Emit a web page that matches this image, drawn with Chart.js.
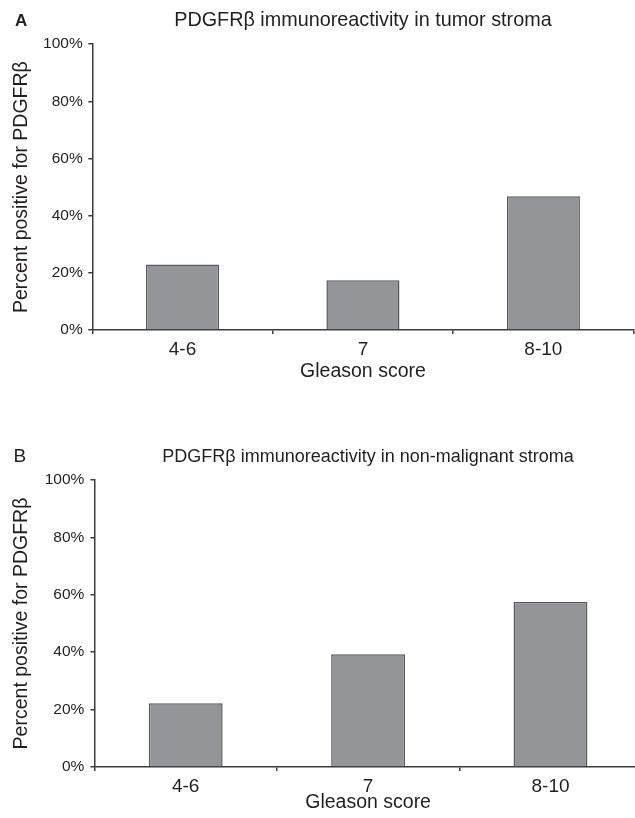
<!DOCTYPE html>
<html><head><meta charset="utf-8">
<script src="https://cdn.jsdelivr.net/npm/chart.js@4.4.1/dist/chart.umd.min.js"></script>
<style>
html,body{margin:0;padding:0;background:#fff;width:635px;height:818px;overflow:hidden;position:relative;}
.panel{position:absolute;left:0;}
#pa{top:0;width:635px;height:400px;}
#pb{top:420px;width:645px;height:398px;}
.lbl{position:absolute;font-family:"Liberation Sans",Arial,sans-serif;color:#231f20;line-height:1;}
</style></head><body>
<div id="pa" class="panel"><canvas id="ca"></canvas></div>
<div id="pb" class="panel"><canvas id="cb"></canvas></div>
<div class="lbl" style="left:15px;top:12px;font-size:17px;font-weight:bold;">A</div>
<div class="lbl" style="left:13.5px;top:446px;font-size:19px;">B</div>
<script>
const categories = ['4-6', '7', '8-10'];
const tumorStroma = [22.9, 17.4, 46.8];
const nonMalignantStroma = [22.2, 39.3, 57.5];
const yTickValues = [0, 20, 40, 60, 80, 100];
const titleA = 'PDGFRβ immunoreactivity in tumor stroma';
const titleB = 'PDGFRβ immunoreactivity in non-malignant stroma';
const yTitle = 'Percent positive for PDGFRβ';
const xTitle = 'Gleason score';

const FONT = '"Liberation Sans", Arial, sans-serif';
const TXT = '#231f20';
const AXIS = '#3c3c3c';

function makeChart(id, values, title, c) {
  return new Chart(document.getElementById(id), {
    type: 'bar',
    data: {
      labels: categories,
      datasets: [{
        data: values,
        backgroundColor: '#939598',
        borderColor: '#58595b',
        borderWidth: 1.5,
        borderSkipped: 'bottom',
        categoryPercentage: 1,
        barPercentage: 0.405
      }]
    },
    options: {
      responsive: true,
      maintainAspectRatio: false,
      animation: false,
      layout: { padding: { left: 0, right: c.right, top: 0, bottom: 0 } },
      plugins: {
        legend: { display: false },
        tooltip: { enabled: false },
        title: {
          display: true,
          text: title,
          fullSize: false,
          color: TXT,
          font: { family: FONT, size: c.titleSize, weight: 'normal' },
          padding: { top: c.titleTop, bottom: c.titleBottom }
        }
      },
      scales: {
        x: {
          type: 'category',
          offset: true,
          afterFit: (s) => { s.height = c.xHeight; },
          border: { display: true, color: AXIS, width: 1.5 },
          grid: { display: true, offset: true, drawOnChartArea: false, drawTicks: true, tickLength: 4, color: AXIS, lineWidth: 1.5 },
          ticks: { color: TXT, font: { family: FONT, size: 19 }, padding: c.xTickPad, maxRotation: 0 },
          title: { display: true, text: xTitle, color: TXT, font: { family: FONT, size: 19.5 }, padding: { top: 0, bottom: c.xTitleBottom } }
        },
        y: {
          min: 0, max: 100,
          afterFit: (s) => { s.width = c.yWidth; },
          afterBuildTicks: (s) => { s.ticks = yTickValues.map(v => ({ value: v })); },
          border: { display: true, color: AXIS, width: 1.5 },
          grid: { display: true, drawOnChartArea: false, drawTicks: true, tickLength: 4, color: AXIS, lineWidth: 1.5 },
          ticks: { color: TXT, font: { family: FONT, size: 15.5 }, padding: c.yTickPad, callback: (v) => v + '%' },
          title: { display: true, text: yTitle, color: TXT, font: { family: FONT, size: 19.5 }, padding: { top: 10.3, bottom: 0 } }
        }
      }
    }
  });
}

makeChart('ca', tumorStroma, titleA, {
  right: 1.4, titleSize: 19.8, titleTop: 9.1, titleBottom: 11.3, xHeight: 70, xTickPad: 4.6, xTitleBottom: 16.8, yWidth: 92.3, yTickPad: 5.6
});
makeChart('cb', nonMalignantStroma, titleB, {
  right: 3.3, titleSize: 18, titleTop: 26.7, titleBottom: 11.7, xHeight: 51, xTickPad: 3.9, xTitleBottom: 3.3, yWidth: 94.5, yTickPad: 6.2
});
</script>
</body></html>
